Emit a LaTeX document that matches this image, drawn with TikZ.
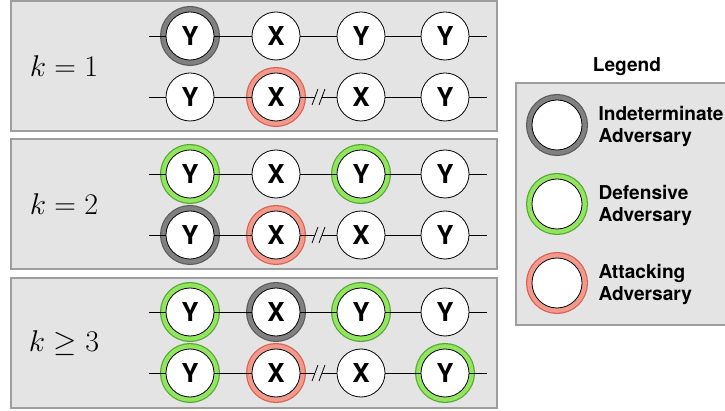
\RequirePackage{fix-cm}
\documentclass[tikz,border=0pt]{standalone}
\usepackage{amssymb, amsmath}
\usepackage{fontspec}
\setsansfont{TeX Gyre Heros}
\usepackage{tikz}
\usetikzlibrary{calc}

\definecolor{indetfill}{RGB}{128,128,128}
\definecolor{indetedge}{RGB}{92,92,92}
\definecolor{deffill}{RGB}{146,229,94}
\definecolor{defedge}{RGB}{86,166,52}
\definecolor{attfill}{RGB}{243,153,140}
\definecolor{attedge}{RGB}{214,98,82}
\definecolor{panelfill}{RGB}{228,228,228}
\definecolor{paneledge}{RGB}{158,158,158}

\begin{document}
\begin{tikzpicture}[x=1pt,y=-1pt]
      \tikzset{agent/.style={circle, draw=black, fill=white, line width=0.8pt,
          minimum size=48pt, inner sep=0pt, outer sep=0pt,
          font=\fontsize{26}{26}\selectfont\sffamily\bfseries},
        ringed/.style={agent,
          preaction={draw=#1edge, line width=12pt},
          preaction={draw=#1fill, line width=9.6pt}},
        panel/.style={fill=panelfill, draw=paneledge, line width=1.3pt},
        klabel/.style={font=\fontsize{30}{36}\selectfont},
        legendtext/.style={font=\fontsize{19.1}{22}\selectfont\sffamily\bfseries, align=left}
      }
      \useasboundingbox (0,0) rectangle (725,411);

      % panels
      \draw [panel] (11,1) rectangle (497,131);
      \draw [panel] (11,139) rectangle (497,269);
      \draw [panel] (11,278) rectangle (497,408);
      \node [klabel] (k1) at (64,66) {$k=1$};
      \node [klabel] (k2) at (64,204) {$k=2$};
      \node [klabel] (k3) at (64,343) {$k\geq 3$};

      % k = 1
      \node [ringed=indet] (a1) at (190,36) {Y};
      \node [agent] (a2) at (276,36) {X};
      \node [agent] (a3) at (361,36) {Y};
      \node [agent] (a4) at (445,36) {Y};
      \node [agent] (b1) at (190,97) {Y};
      \node [ringed=att] (b2) at (276,97) {X};
      \node [agent] (b3) at (361,97) {X};
      \node [agent] (b4) at (445,97) {Y};

      % k = 2
      \node [ringed=def] (c1) at (190,174) {Y};
      \node [agent] (c2) at (276,174) {X};
      \node [ringed=def] (c3) at (361,174) {Y};
      \node [agent] (c4) at (445,174) {Y};
      \node [ringed=indet] (d1) at (190,235) {Y};
      \node [ringed=att] (d2) at (276,235) {X};
      \node [agent] (d3) at (361,235) {X};
      \node [agent] (d4) at (445,235) {Y};

      % k >= 3
      \node [ringed=def] (e1) at (190,312) {Y};
      \node [ringed=indet] (e2) at (276,312) {X};
      \node [ringed=def] (e3) at (361,312) {Y};
      \node [agent] (e4) at (445,312) {Y};
      \node [ringed=def] (f1) at (190,373) {Y};
      \node [ringed=att] (f2) at (276,373) {X};
      \node [agent] (f3) at (361,373) {X};
      \node [ringed=def] (f4) at (445,373) {Y};

      % chains
      \foreach \r/\y in {a/36,b/97,c/174,d/235,e/312,f/373} {
        \coordinate (\r0) at (149,\y);
        \coordinate (\r5) at (487,\y);
        \draw [line width=0.8pt] (\r0) -- (\r1);
        \draw [line width=0.8pt] (\r1) -- (\r2);
        \draw [line width=0.8pt] (\r3) -- (\r4);
        \draw [line width=0.8pt] (\r4) -- (\r5);
      }
      \foreach \r/\y in {a/36,c/174,e/312}
        \draw [line width=0.8pt] (\r2) -- (\r3);
      \foreach \r/\y in {b/97,d/235,f/373} {
        \coordinate (\r cut) at (318.5,\y);
        \draw [line width=0.8pt] (\r2) -- ($(\r cut)+(-3.5,0)$);
        \draw [line width=0.8pt] ($(\r cut)+(3.5,0)$) -- (\r3);
        \draw [line width=0.8pt] ($(\r cut)+(-6.5,8)$) -- ++(6,-16)
          ($(\r cut)+(0.5,8)$) -- ++(6,-16);
      }

      % legend
      \node [legendtext] (legend) at (627,67) {Legend};
      \draw [panel] (516,83) rectangle (740,325);
      \node [ringed=indet, minimum size=50pt] (l1) at (557,125) {};
      \node [ringed=def, minimum size=50pt] (l2) at (557,204) {};
      \node [ringed=att, minimum size=50pt] (l3) at (557,283) {};
      \node [legendtext, anchor=west] (t1) at (595,126) {Indeterminate\\Adversary};
      \node [legendtext, anchor=west] (t2) at (595,205) {Defensive\\Adversary};
      \node [legendtext, anchor=west] (t3) at (595,284) {Attacking\\Adversary};
    \end{tikzpicture}
\end{document}
